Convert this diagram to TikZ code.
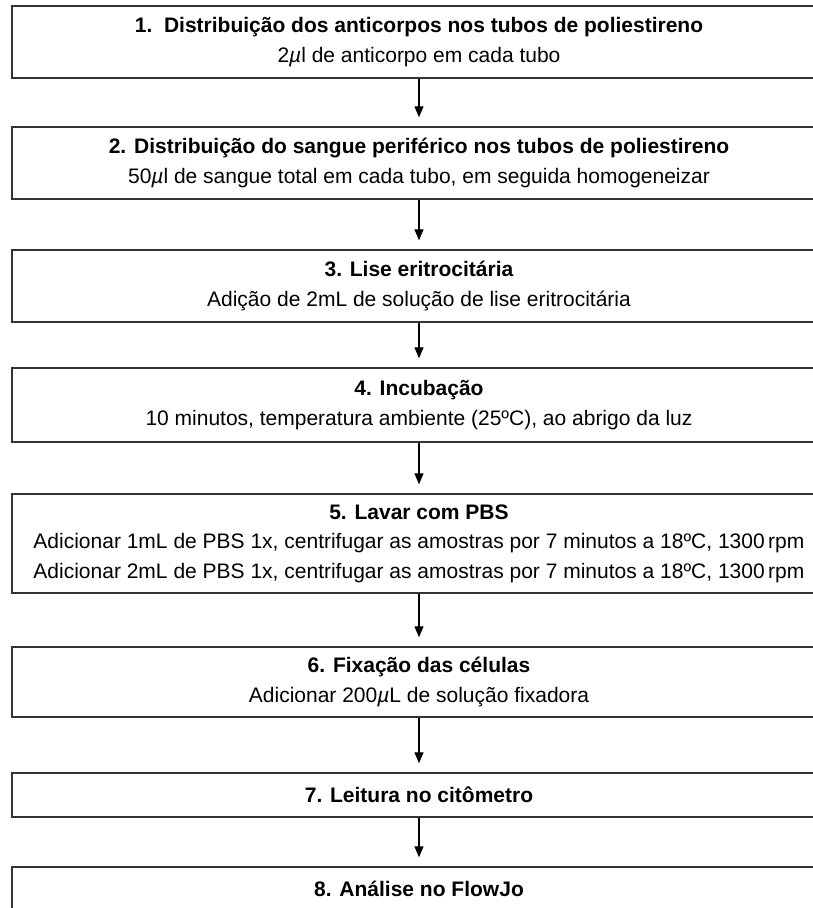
\documentclass[tikz,border=0pt]{standalone}
\usepackage{fontspec}
\setmainfont{Liberation Sans}
\usetikzlibrary{arrows.meta}
\tikzset{
  stepbox/.style={draw=black!80, line width=1.4pt, minimum width=814pt, align=center, inner sep=0pt, font=\fontsize{21}{29.5}\selectfont},
  flow/.style={-{Triangle[length=11pt,width=9pt]}, line width=1.2pt, shorten >=9pt}
}
\begin{document}
\begin{tikzpicture}[x=1pt,y=-1pt]
\useasboundingbox (0,0) rectangle (813,908);
\clip (0,0) rectangle (813,908);
% Etapas do protocolo
\node[stepbox, minimum height=72pt] (s1) at (419,42) {\textbf{1.\ \ Distribuição dos anticorpos nos tubos de poliestireno}\\2\textit{µ}l de anticorpo em cada tubo};
\node[stepbox, minimum height=72pt] (s2) at (419,163) {\textbf{2. Distribuição do sangue periférico nos tubos de poliestireno}\\50\textit{µ}l de sangue total em cada tubo, em seguida homogeneizar};
\node[stepbox, minimum height=72pt] (s3) at (419,286) {\textbf{3. Lise eritrocitária}\\Adição de 2mL de solução de lise eritrocitária};
\node[stepbox, minimum height=74pt] (s4) at (419,405) {\textbf{4. Incubação}\\10 minutos, temperatura ambiente (25ºC), ao abrigo da luz};
\node[stepbox, minimum height=99pt] (s5) at (419,543.5) {\textbf{5. Lavar com PBS}\\Adicionar 1mL de PBS 1x, centrifugar as amostras por 7 minutos a 18ºC, 1300\,rpm\\Adicionar 2mL de PBS 1x, centrifugar as amostras por 7 minutos a 18ºC, 1300\,rpm};
\node[stepbox, minimum height=70pt] (s6) at (419,682) {\textbf{6. Fixação das células}\\Adicionar 200\textit{µ}L de solução fixadora};
\node[stepbox, minimum height=44pt] (s7) at (419,795) {\textbf{7. Leitura no citômetro}};
\node[stepbox, minimum height=44pt] (s8) at (419,889) {\textbf{8. Análise no FlowJo}};
% Setas
\foreach \a/\b in {s1/s2, s2/s3, s3/s4, s4/s5, s5/s6, s6/s7, s7/s8}
  \draw[flow] (\a) -- (\b);
\end{tikzpicture}
\end{document}
